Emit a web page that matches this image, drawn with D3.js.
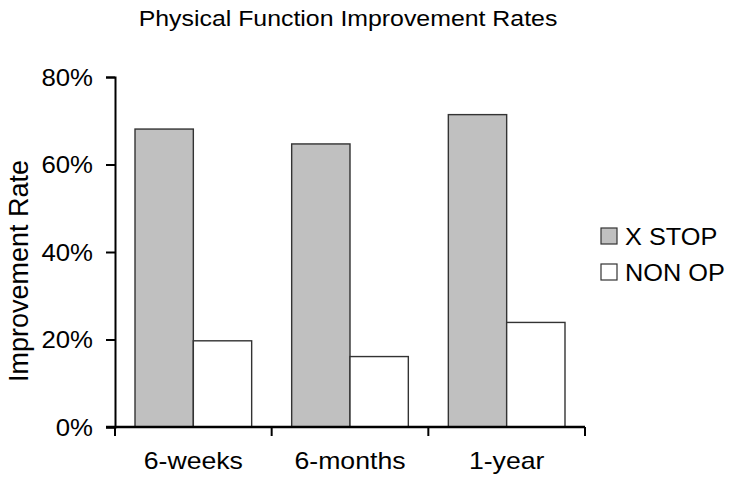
<!DOCTYPE html>
<html><head><meta charset="utf-8">
<script src="https://cdn.jsdelivr.net/npm/d3@7"></script>
<style>body{margin:0;background:#fff}svg{display:block;font-family:"Liberation Sans",Arial,sans-serif}</style>
</head><body><svg id="c" width="732" height="483"></svg>
<script>
const categories = ["6-weeks", "6-months", "1-year"];
const seriesNames = ["X STOP", "NON OP"];
const xStop = [68.1, 64.7, 71.4];
const nonOp = [19.7, 16.1, 23.9];
const yTicks = [0, 20, 40, 60, 80];

const svg = d3.select("#c");
const m = {l: 115, r: 585, t: 77, b: 427};
const x = d3.scaleBand().domain(categories).range([m.l, m.r]).paddingInner(0).paddingOuter(0);
const y = d3.scaleLinear().domain([0, 80]).range([m.b, m.t]);
const sub = d3.scaleBand().domain(seriesNames).range([0, x.bandwidth()]).paddingOuter(0.343).paddingInner(0);
const colors = {"X STOP": "#c0c0c0", "NON OP": "#ffffff"};
const FONT = "Liberation Sans, Arial, sans-serif";
function stretch(sel, k) {
  sel.each(function() {
    const w = this.getComputedTextLength();
    d3.select(this).attr("textLength", w * k).attr("lengthAdjust", "spacingAndGlyphs");
  });
}

const data = categories.map((c, i) => ({c, vals: [{s: "X STOP", v: xStop[i]}, {s: "NON OP", v: nonOp[i]}]}));

const title = svg.append("text").attr("x", 348).attr("y", 26).attr("text-anchor", "middle")
  .attr("font-size", 22).attr("fill", "#000").text("Physical Function Improvement Rates");
stretch(title, 1.13);

const g = svg.append("g");
g.selectAll("g.cat").data(data).join("g").attr("class", "cat")
  .attr("transform", d => `translate(${x(d.c)},0)`)
  .selectAll("rect").data(d => d.vals).join("rect")
  .attr("x", d => sub(d.s)).attr("width", sub.bandwidth())
  .attr("y", d => y(d.v)).attr("height", d => y(0) - y(d.v))
  .attr("fill", d => colors[d.s]).attr("stroke", "#333").attr("stroke-width", 1.4);

// y axis
const ya = svg.append("g").attr("transform", `translate(${m.l},0)`)
  .call(d3.axisLeft(y).tickValues(yTicks).tickFormat(d => d + "%").tickSize(9).tickPadding(13));
ya.select(".domain").attr("stroke", "#000").attr("stroke-width", 2);
ya.selectAll(".tick line").attr("stroke", "#000").attr("stroke-width", 2);
ya.selectAll(".tick text").attr("font-size", 23).attr("fill", "#000").attr("font-family", FONT).attr("dy", "0.36em");
stretch(ya.selectAll(".tick text"), 1.12);

// x axis
const xa = svg.append("g").attr("transform", `translate(0,${m.b})`)
  .call(d3.axisBottom(x).tickSize(0).tickPadding(25));
xa.select(".domain").attr("stroke", "#000").attr("stroke-width", 2.5).attr("d", `M${m.l-9},0H${m.r}`);
xa.selectAll(".tick text").attr("font-size", 24).attr("fill", "#000").attr("font-family", FONT);
stretch(xa.selectAll(".tick text"), 1.11);
const bounds = categories.map(c => x(c)).concat([m.r]);
xa.selectAll("line.bt").data(bounds).join("line").attr("class", "bt")
  .attr("x1", d => d).attr("x2", d => d).attr("y1", 0).attr("y2", 9)
  .attr("stroke", "#000").attr("stroke-width", 2);

// y label
svg.append("text").attr("transform", `translate(28,271) rotate(-90)`)
  .attr("text-anchor", "middle").attr("font-size", 27).attr("fill", "#000").text("Improvement Rate");

// legend
const lg = svg.append("g").attr("transform", "translate(601,228)");
const li = lg.selectAll("g").data(seriesNames).join("g").attr("transform", (d, i) => `translate(0,${i * 36})`);
li.append("rect").attr("width", 16).attr("height", 16).attr("fill", d => colors[d]).attr("stroke", "#333").attr("stroke-width", 1.2);
const lt = li.append("text").attr("x", 24).attr("y", 17).attr("font-size", 23).attr("fill", "#000").text(d => d);
stretch(lt, 1.1);
</script></body></html>
